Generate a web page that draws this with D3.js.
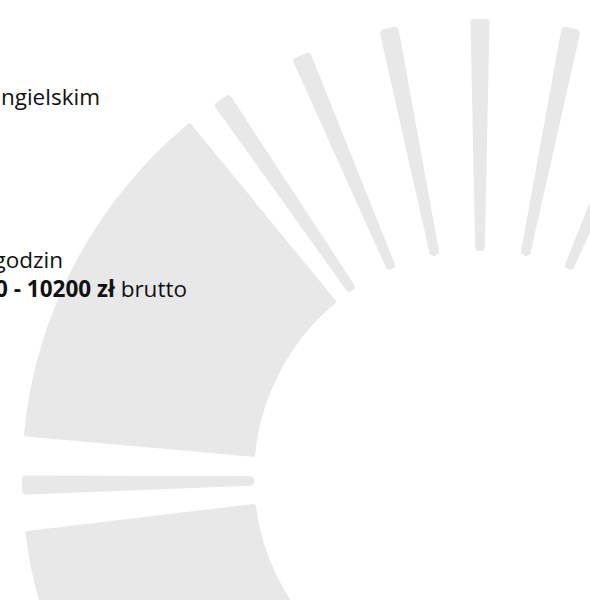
<!DOCTYPE html>
<html>
<head>
<meta charset="utf-8">
<script src="https://cdn.jsdelivr.net/npm/d3@7"></script>
<style>
  body { margin: 0; background: #fff; }
  svg { display: block; }
</style>
</head>
<body>
<div id="chart"></div>
<script>
// angles in degrees, 0 = straight up, negative = to the left
const rayAngles = [-91, -34.4, -23, -11.5, 0, 11.5, 23, 34.4];
const raySpan = 2.4;
const sectorStart = [-84.9, -135];
const sectorEnd = [-39.3, -96.8];
const radii = [226, 458];

const textLines = [
    { parts: [["ngielskim", 400]], x: 100, y: 105 },
    { parts: [["godzin", 400]], x: 63, y: 268 },
    { parts: [["0 - 10200 zł", 700], [" brutto", 400]], x: 187, y: 297 }
];

const config = { width: 590, height: 607, cx: 480, cy: 477, clipBottom: 600 };

const svg = d3.select("#chart")
    .append("svg")
    .attr("width", config.width)
    .attr("height", config.height);

svg.append("defs").append("clipPath")
    .attr("id", "clip")
    .append("rect")
    .attr("x", 0).attr("y", 0)
    .attr("width", config.width)
    .attr("height", config.clipBottom);

// degrees -> radians
const ang = d3.scaleLinear().domain([-180, 180]).range([-Math.PI, Math.PI]);

const arc = d3.arc()
    .innerRadius(radii[0])
    .outerRadius(radii[1]);

const g = svg.append("g")
    .attr("clip-path", "url(#clip)")
    .append("g")
    .attr("transform", `translate(${config.cx},${config.cy})`);

// big sectors
g.selectAll("path.sector")
    .data(sectorStart.map((s, i) => ({ s: s, e: sectorEnd[i] })))
    .enter().append("path")
    .attr("class", "sector")
    .attr("fill", "#e8e8e8")
    .attr("d", d => arc.cornerRadius(2)({
        innerRadius: radii[0] - 3,
        outerRadius: radii[1],
        startAngle: ang(d.s),
        endAngle: ang(d.e)
    }));

// thin rays
g.selectAll("path.ray")
    .data(rayAngles)
    .enter().append("path")
    .attr("class", "ray")
    .attr("fill", "#e8e8e8")
    .attr("d", a => arc.cornerRadius(4)({
        innerRadius: radii[0],
        outerRadius: radii[1],
        startAngle: ang(a - raySpan / 2),
        endAngle: ang(a + raySpan / 2)
    }));

// text (cut off at the left edge in the original)
const txt = svg.append("g")
    .style("font-family", "'Open Sans', 'DejaVu Sans', sans-serif")
    .style("font-size", "22.5px")
    .attr("fill", "#111");

textLines.forEach(line => {
    const t = txt.append("text")
        .attr("x", line.x)
        .attr("y", line.y)
        .style("text-anchor", "end");
    line.parts.forEach(p => {
        t.append("tspan")
            .attr("font-weight", p[1])
            .style("white-space", "pre")
            .text(p[0]);
    });
});
</script>
</body>
</html>
